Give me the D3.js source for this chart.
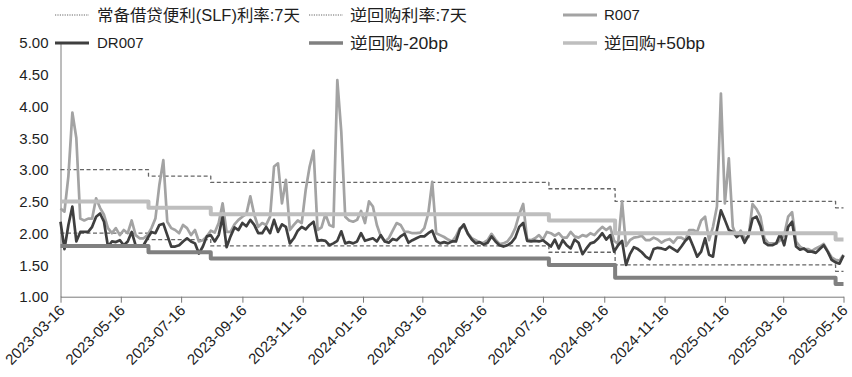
<!DOCTYPE html>
<html>
<head>
<meta charset="utf-8">
<script src="https://cdn.jsdelivr.net/npm/d3@7"></script>
<style>
  html, body { margin: 0; padding: 0; background: #fff; }
  svg { display: block; }
  text { font-family: "Liberation Sans", "Noto Sans CJK SC", sans-serif; fill: #1e1e1e; }
</style>
</head>
<body>
<svg id="chart" width="852" height="377"></svg>
<script>
// ---------------- data ----------------
// sampling calendar for the money-market series (every 4 calendar days)
const sampleStart = "2023-03-16";
const sampleEnd = "2025-05-16";
const sampleStepDays = 4;

const r007 = [
  2.39,2.34,2.90,3.90,3.50,2.23,2.20,2.23,2.23,2.55,
  2.40,2.29,2.08,2.00,2.08,1.97,2.05,2.00,2.20,1.97,
  1.92,1.92,1.97,2.08,2.23,2.76,3.15,2.18,2.08,2.05,
  2.00,2.13,2.08,1.97,2.05,1.87,1.89,1.95,2.04,2.01,
  2.16,2.47,2.02,2.02,2.14,2.21,2.26,2.30,2.58,2.29,
  2.10,2.16,2.13,2.26,3.05,3.10,2.47,2.84,2.05,2.13,
  2.20,2.16,2.68,3.05,3.30,2.05,2.09,2.30,2.13,2.10,
  4.41,3.60,2.26,2.20,2.18,2.21,2.35,2.16,2.50,2.42,
  2.13,1.95,1.87,1.92,2.04,2.16,2.13,2.02,2.02,2.00,
  2.00,2.01,2.08,2.31,2.81,2.00,1.97,1.94,1.90,1.87,
  1.95,2.08,2.11,2.00,1.92,1.89,1.85,1.85,1.89,1.99,
  1.90,1.83,1.84,1.87,1.95,2.08,2.30,2.46,1.90,1.89,
  1.92,1.97,1.90,2.02,2.00,1.96,2.00,1.93,1.93,2.02,
  1.95,1.93,1.97,1.95,2.00,1.97,2.04,2.10,2.05,2.10,
  1.88,1.83,2.50,1.80,1.89,1.93,1.94,1.96,1.89,1.89,
  1.93,1.90,1.85,1.89,1.91,1.85,1.93,1.93,1.89,2.05,
  2.05,2.02,2.20,2.26,1.89,2.10,2.42,4.20,2.47,3.18,
  2.10,1.94,2.04,1.92,1.94,2.46,2.38,2.26,1.92,1.84,
  1.84,1.84,1.89,1.97,2.26,2.33,1.87,1.79,1.75,1.75,
  1.72,1.76,1.79,1.83,1.72,1.62,1.58,1.57,1.66
];

const dr007 = [
  2.18,1.75,2.13,2.42,1.87,2.02,2.02,2.02,2.10,2.26,
  2.31,2.18,1.79,1.87,1.86,1.89,1.81,1.87,2.02,1.81,
  1.79,1.81,1.92,2.02,2.00,2.13,2.15,1.97,1.79,1.79,
  1.81,1.87,1.92,1.87,1.84,1.68,1.79,1.95,1.97,1.87,
  1.97,2.26,1.78,1.95,2.09,2.05,2.16,2.11,2.21,2.13,
  2.00,2.00,2.10,2.00,2.21,2.02,2.14,2.10,1.84,1.92,
  2.04,2.10,2.06,2.13,2.18,1.88,1.89,1.88,1.81,1.84,
  1.88,2.03,1.84,1.86,1.84,1.87,2.00,1.88,1.90,1.92,
  1.87,1.97,1.87,1.85,1.91,1.89,1.95,1.99,1.85,1.89,
  1.92,1.95,1.95,2.00,2.04,1.88,1.84,1.86,1.84,1.87,
  1.87,2.06,2.14,1.99,1.90,1.84,1.86,1.82,1.85,1.95,
  1.87,1.81,1.79,1.81,1.85,1.93,2.10,2.16,1.88,1.87,
  1.88,1.87,1.89,1.84,1.79,1.90,1.76,1.89,1.81,1.76,
  1.90,1.85,1.67,1.76,1.84,1.86,1.92,2.00,1.90,1.97,
  1.71,1.81,1.88,1.50,1.67,1.78,1.75,1.70,1.63,1.59,
  1.75,1.77,1.76,1.74,1.79,1.75,1.71,1.79,1.88,1.94,
  1.79,1.63,1.71,1.92,1.66,1.63,2.05,2.36,2.21,2.05,
  2.02,1.94,1.99,1.85,1.97,2.23,2.26,2.11,1.85,1.81,
  1.81,1.84,1.99,1.81,2.10,2.18,1.79,1.74,1.76,1.71,
  1.71,1.69,1.75,1.81,1.71,1.58,1.54,1.52,1.65
];

// policy rate change dates and levels (step series)
const rateDates = ["2023-03-16","2023-06-13","2023-08-15","2024-07-22","2024-09-27","2025-05-08"];
const slf7d      = [3.00, 2.90, 2.80, 2.70, 2.50, 2.40];
const rr7d       = [2.00, 1.90, 1.80, 1.70, 1.50, 1.40];
const rrMinus20  = [1.80, 1.70, 1.60, 1.50, 1.30, 1.20];
const rrPlus50   = [2.50, 2.40, 2.30, 2.20, 2.00, 1.90];

const yTicks = [1.00, 1.50, 2.00, 2.50, 3.00, 3.50, 4.00, 4.50, 5.00];
const xTickLabels = ["2023-03-16","2023-05-16","2023-07-16","2023-09-16","2023-11-16","2024-01-16",
  "2024-03-16","2024-05-16","2024-07-16","2024-09-16","2024-11-16","2025-01-16","2025-03-16","2025-05-16"];

const seriesNames = ["常备借贷便利(SLF)利率:7天", "逆回购利率:7天", "R007", "DR007", "逆回购-20bp", "逆回购+50bp"];

// ---------------- drawing ----------------
const parse = d3.utcParse("%Y-%m-%d");
const fmt = d3.utcFormat("%Y-%m-%d");
const svg = d3.select("#chart");

const x = d3.scaleUtc().domain([parse(sampleStart), parse(sampleEnd)]).range([60.5, 843.5]);
const y = d3.scaleLinear().domain([1, 5]).range([296.7, 42.7]);

const dates = [];
for (let i = 0; i < r007.length; i++) dates.push(d3.utcDay.offset(parse(sampleStart), i * sampleStepDays));

const styles = [
  {stroke: "#666666", width: 1.3, dash: "4,2.5", legendDash: "1.2,1.2"},
  {stroke: "#666666", width: 1.3, dash: "4,2.5", legendDash: "1.2,1.2"},
  {stroke: "#a3a3a3", width: 2.7, dash: null},
  {stroke: "#3f3f3f", width: 2.7, dash: null},
  {stroke: "#808080", width: 4, dash: null},
  {stroke: "#bebebe", width: 4, dash: null}
];

function stepPoints(vals) {
  const pts = rateDates.map((d, i) => [parse(d), vals[i]]);
  pts.push([parse(sampleEnd), vals[vals.length - 1]]);
  return pts;
}

const stepLine = d3.line().x(d => x(d[0])).y(d => y(d[1])).curve(d3.curveStepAfter);
const line = d3.line().x(d => x(d[0])).y(d => y(d[1]));

// axes
const yAxis = d3.axisLeft(y).tickValues(yTicks).tickSize(0).tickPadding(12).tickFormat(d3.format(".2f"));
const gy = svg.append("g").attr("transform", "translate(60.5,0)").call(yAxis);
gy.select(".domain").attr("stroke", "#7a7a7a");
gy.selectAll("text").style("font-size", "15px").attr("dy", "0.35em");

const xAxis = d3.axisBottom(x).tickValues(xTickLabels.map(parse)).tickSizeInner(6).tickSizeOuter(0).tickFormat(fmt);
const gx = svg.append("g").attr("transform", "translate(0,296.7)").call(xAxis);
gx.select(".domain").attr("stroke", "#7a7a7a");
gx.selectAll(".tick line").attr("stroke", "#7a7a7a");
gx.selectAll("text")
  .style("font-size", "15px")
  .attr("text-anchor", "end")
  .attr("x", 0).attr("y", 0).attr("dy", "0.35em")
  .attr("transform", "translate(1,11) rotate(-45)");

// series
const plot = svg.append("g");
const seriesData = [
  {pts: stepPoints(slf7d), curve: stepLine},
  {pts: stepPoints(rr7d), curve: stepLine},
  {pts: dates.map((d, i) => [d, r007[i]]), curve: line},
  {pts: dates.map((d, i) => [d, dr007[i]]), curve: line},
  {pts: stepPoints(rrMinus20), curve: stepLine},
  {pts: stepPoints(rrPlus50), curve: stepLine}
];
seriesData.forEach((s, i) => {
  const st = styles[i];
  plot.append("path")
    .attr("d", s.curve(s.pts))
    .attr("fill", "none")
    .attr("stroke", st.stroke)
    .attr("stroke-width", st.width)
    .attr("stroke-linejoin", "round")
    .attr("stroke-dasharray", st.dash);
});

// legend
const legendPos = [
  {lx: 55, ty: 15, tx: 97, w: 203},
  {lx: 309, ty: 15, tx: 350, w: 117},
  {lx: 563, ty: 15, tx: 604, w: null},
  {lx: 55, ty: 43, tx: 97, w: null},
  {lx: 309, ty: 43, tx: 350, w: 98},
  {lx: 563, ty: 43, tx: 604, w: 101}
];
const lg = svg.append("g");
seriesNames.forEach((name, i) => {
  const p = legendPos[i], st = styles[i];
  lg.append("line")
    .attr("x1", p.lx).attr("x2", p.lx + 34)
    .attr("y1", p.ty).attr("y2", p.ty)
    .attr("stroke", st.stroke)
    .attr("stroke-width", st.dash ? 1 : (i >= 4 ? 3.5 : 3))
    .attr("stroke-dasharray", st.legendDash || null);
  const t = lg.append("text")
    .attr("x", p.tx).attr("y", p.ty).attr("dy", "0.35em")
    .style("font-size", p.w ? "16px" : "15px")
    .text(name);
  if (p.w) t.attr("textLength", p.w).attr("lengthAdjust", "spacingAndGlyphs");
});
</script>
</body>
</html>
